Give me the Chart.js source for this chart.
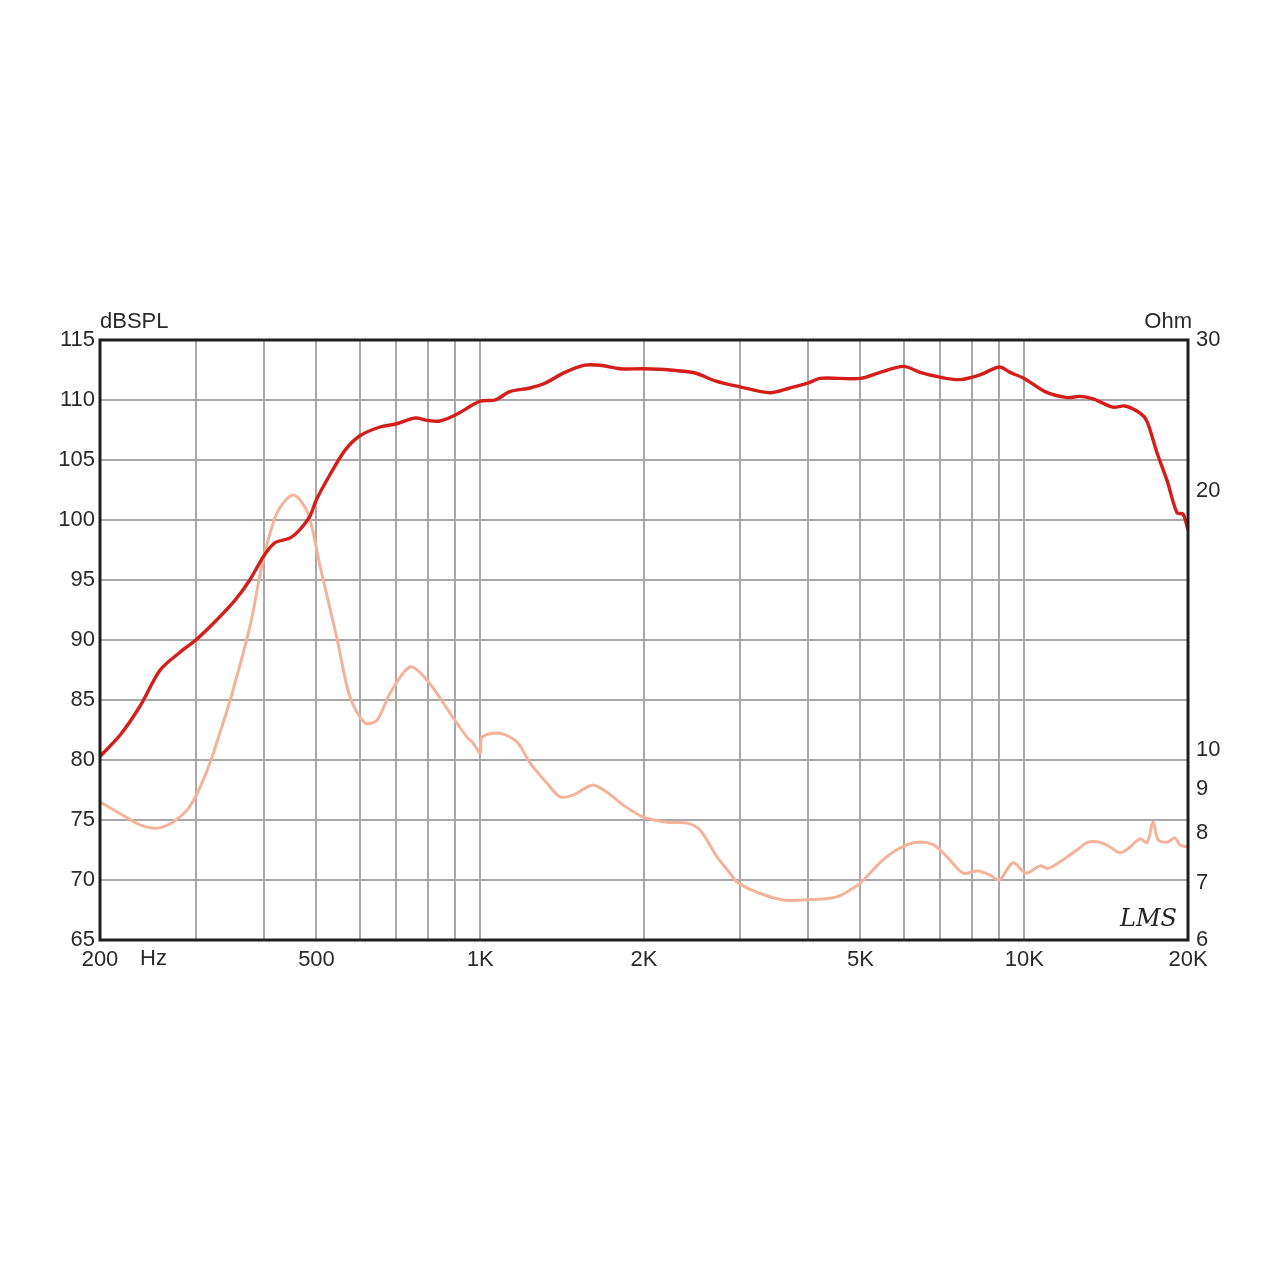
<!DOCTYPE html>
<html>
<head>
<meta charset="utf-8">
<script src="https://cdn.jsdelivr.net/npm/chart.js@4.4.1/dist/chart.umd.min.js"></script>
<style>
html,body{margin:0;padding:0;background:#fff;}
#wrap{width:1280px;height:1280px;}
</style>
</head>
<body>
<div id="wrap"><canvas id="c" width="1280" height="1280"></canvas></div>
<script>
// ---- Data ----
const splFreq = [200,218,237,258,281,300,325,354,377,400,419,447,466,486,500,529,564,600,654,700,759,800,843,900,1000,1065,1134,1234,1315,1431,1558,1660,1807,2000,2232,2482,2702,3000,3408,3710,4000,4212,4586,5000,5432,6000,6434,7000,7620,8294,9000,9418,10000,10920,11990,12660,13380,14560,15320,16330,16820,17540,18300,19090,19580,20000];
const splDb   = [80.3,82.1,84.5,87.5,89.0,90.0,91.5,93.3,95.0,97.0,98.1,98.5,99.2,100.3,101.7,103.75,105.8,107.0,107.75,108.0,108.5,108.3,108.25,108.75,109.9,110.0,110.7,111.0,111.4,112.3,112.9,112.9,112.6,112.6,112.5,112.25,111.6,111.1,110.6,111.0,111.4,111.8,111.8,111.8,112.3,112.8,112.3,111.9,111.7,112.1,112.75,112.3,111.8,110.7,110.2,110.3,110.1,109.4,109.5,108.9,108.2,105.6,103.3,100.6,100.5,99.2];

const impFreq = [200,220,237,255,272,289,302,319,332,347,377,399,423,453,482,508,546,576,614,646,683,743,798,880,945,970,1000,1008,1087,1169,1234,1326,1402,1481,1605,1710,1830,1990,2204,2400,2535,2724,2878,2966,3226,3602,3900,4396,4586,4782,5000,5206,5500,5910,6350,6800,7210,7720,8222,8650,9000,9536,10080,10690,11060,11780,12500,13100,13780,14380,15000,15650,16330,16820,17250,17620,18300,18940,19340,20000];
const impOhm  = [8.69,8.39,8.17,8.10,8.23,8.50,8.90,9.67,10.45,11.42,13.89,16.63,18.86,19.79,18.86,16.32,13.42,11.52,10.74,10.82,11.64,12.48,12.05,11.03,10.34,10.18,9.91,10.34,10.45,10.20,9.65,9.14,8.81,8.85,9.09,8.92,8.62,8.35,8.23,8.21,8.06,7.50,7.18,7.01,6.82,6.68,6.68,6.71,6.76,6.86,6.99,7.18,7.44,7.68,7.80,7.75,7.50,7.18,7.22,7.14,7.05,7.38,7.18,7.32,7.27,7.44,7.64,7.80,7.80,7.70,7.58,7.70,7.87,7.79,8.23,7.85,7.80,7.89,7.74,7.70];

const xGridTicks = [200,300,400,500,600,700,800,900,1000,2000,3000,4000,5000,6000,7000,8000,9000,10000,20000];
const xLabelMap = {200:'200',500:'500',1000:'1K',2000:'2K',5000:'5K',10000:'10K',20000:'20K'};
const ohmTicks = [6,7,8,9,10,20,30];
const ohmLabels = ['6','7','8','9','10','20','30'];

const FONT = "'Liberation Sans', Arial, sans-serif";
const TXT = '#2a2a2a';
const FS = 22;

const framePlugin = {
  id: 'frame',
  afterDatasetsDraw(chart) {
    const {ctx, chartArea: a} = chart;
    ctx.save();
    ctx.strokeStyle = '#1e1e1e';
    ctx.lineWidth = 3;
    ctx.strokeRect(a.left, a.top, a.right - a.left, a.bottom - a.top);
    ctx.fillStyle = TXT;
    ctx.font = FS + 'px ' + FONT;
    ctx.textBaseline = 'alphabetic';
    ctx.textAlign = 'left';
    ctx.fillText('dBSPL', a.left, a.top - 12);
    ctx.textAlign = 'right';
    ctx.fillText('Ohm', a.right + 4, a.top - 12);
    ctx.textAlign = 'left';
    ctx.textBaseline = 'middle';
    ctx.fillText('Hz', a.left + 40, a.bottom + 19);
    ctx.font = 'italic 24px "DejaVu Serif", serif';
    ctx.fillStyle = '#222';
    ctx.textAlign = 'left';
    ctx.fillText('LMS', a.right - 68, a.bottom - 20);
    ctx.restore();
  }
};

new Chart(document.getElementById('c'), {
  type: 'line',
  data: {
    datasets: [
      {
        label: 'SPL',
        data: splFreq.map((f, i) => ({x: f, y: splDb[i]})),
        yAxisID: 'y',
        borderColor: '#d41e1a',
        borderWidth: 3.4,
        pointRadius: 0,
        tension: 0.3,
        fill: false
      },
      {
        label: 'Impedance',
        data: impFreq.map((f, i) => ({x: f, y: impOhm[i]})),
        yAxisID: 'y2',
        borderColor: '#f5b29b',
        borderWidth: 3,
        pointRadius: 0,
        tension: 0.3,
        fill: false
      }
    ]
  },
  options: {
    responsive: false,
    animation: false,
    layout: {padding: {top: 340, bottom: 300, left: 0, right: 0}},
    plugins: {legend: {display: false}, tooltip: {enabled: false}},
    scales: {
      x: {
        type: 'logarithmic',
        min: 200, max: 20000,
        afterBuildTicks: (s) => { s.ticks = xGridTicks.map(v => ({value: v})); },
        afterFit: (s) => { s.height = 40; },
        grid: {color: '#a8a8a8', lineWidth: 2, drawTicks: false},
        border: {display: false},
        ticks: {
          autoSkip: false, maxRotation: 0, padding: 7,
          color: TXT, font: {family: FONT, size: FS},
          callback: (v) => xLabelMap[v] !== undefined ? xLabelMap[v] : ''
        }
      },
      y: {
        type: 'linear', position: 'left',
        min: 65, max: 115,
        afterFit: (s) => { s.width = 100; },
        grid: {color: '#a8a8a8', lineWidth: 2, drawTicks: false},
        border: {display: false},
        ticks: {stepSize: 5, padding: 5, color: TXT, font: {family: FONT, size: FS}}
      },
      y2: {
        type: 'logarithmic', position: 'right',
        min: 6, max: 30,
        afterBuildTicks: (s) => { s.ticks = ohmTicks.map(v => ({value: v})); },
        afterFit: (s) => { s.width = 92; },
        grid: {display: false, drawTicks: false},
        border: {display: false},
        ticks: {
          autoSkip: false, padding: 8, color: TXT, font: {family: FONT, size: FS},
          callback: (v) => { const i = ohmTicks.indexOf(v); return i >= 0 ? ohmLabels[i] : ''; }
        }
      }
    }
  },
  plugins: [framePlugin]
});
</script>
</body>
</html>
